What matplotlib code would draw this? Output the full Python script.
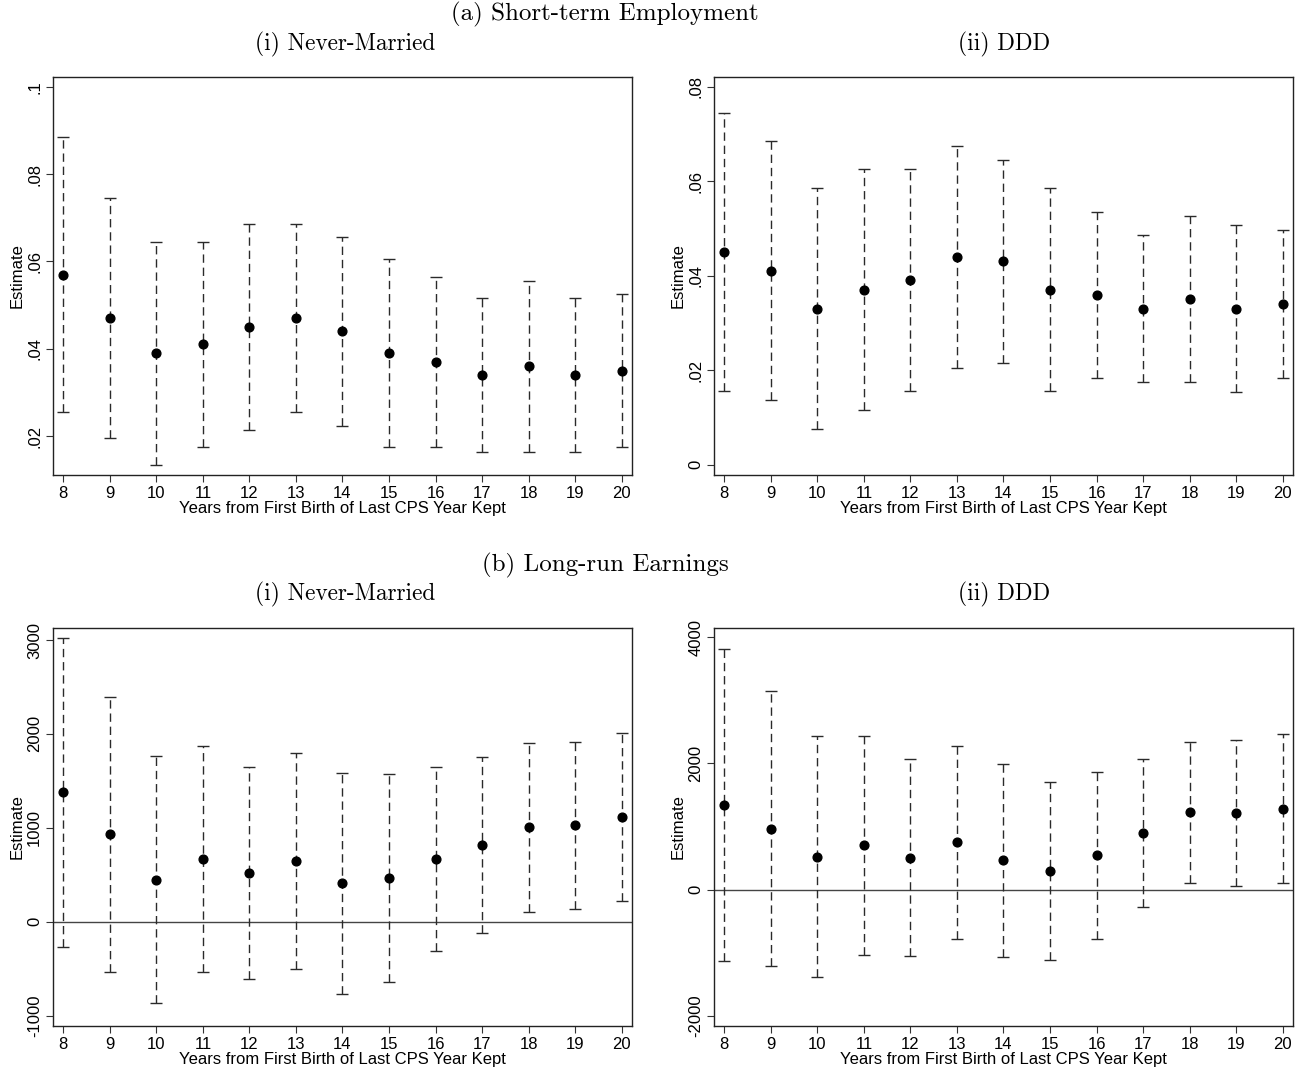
import numpy as np
import matplotlib
matplotlib.use("Agg")
from matplotlib import pyplot as plt

plt.rcParams['font.family'] = ['Liberation Sans', 'DejaVu Sans']

years = np.arange(8, 21)

# short-term employment, never-married sample
emp_nm = [0.057, 0.047, 0.039, 0.041, 0.045, 0.047, 0.044, 0.039, 0.037, 0.034, 0.036, 0.034, 0.035]
emp_nm_hi = [0.0884, 0.0745, 0.0645, 0.0645, 0.0685, 0.0685, 0.0655, 0.0606, 0.0565, 0.0516, 0.0556, 0.0516, 0.0526]
emp_nm_lo = [0.0256, 0.0195, 0.0135, 0.0175, 0.0214, 0.0255, 0.0224, 0.0175, 0.0175, 0.0164, 0.0164, 0.0164, 0.0174]

# short-term employment, DDD
emp_ddd = [0.045, 0.041, 0.033, 0.037, 0.039, 0.044, 0.043, 0.037, 0.036, 0.033, 0.035, 0.033, 0.034]
emp_ddd_hi = [0.0744, 0.0684, 0.0585, 0.0625, 0.0625, 0.0675, 0.0645, 0.0586, 0.0535, 0.0487, 0.0526, 0.0507, 0.0497]
emp_ddd_lo = [0.0156, 0.0136, 0.0076, 0.0116, 0.0155, 0.0205, 0.0215, 0.0155, 0.0184, 0.0174, 0.0174, 0.0154, 0.0184]

# long-run earnings, never-married sample
earn_nm = [1377, 930, 444, 667, 515, 642, 408, 461, 670, 816, 1008, 1029, 1114]
earn_nm_hi = [3022, 2398, 1760, 1869, 1643, 1792, 1582, 1568, 1653, 1756, 1905, 1919, 2011]
earn_nm_lo = [-266, -532, -862, -532, -613, -507, -766, -642, -312, -124, 106, 135, 217]

# long-run earnings, DDD
earn_ddd = [1342, 961, 523, 703, 508, 755, 470, 301, 544, 898, 1226, 1215, 1285]
earn_ddd_hi = [3822, 3145, 2436, 2436, 2071, 2284, 1998, 1707, 1865, 2071, 2347, 2373, 2463]
earn_ddd_lo = [-1132, -1211, -1386, -1037, -1058, -777, -1063, -1110, -783, -276, 111, 52, 111]

emp_nm_ticks = [0.02, 0.04, 0.06, 0.08, 0.1]
emp_nm_labels = ['.02', '.04', '.06', '.08', '.1']
emp_ddd_ticks = [0, 0.02, 0.04, 0.06, 0.08]
emp_ddd_labels = ['0', '.02', '.04', '.06', '.08']
earn_nm_ticks = [-1000, 0, 1000, 2000, 3000]
earn_nm_labels = ['-1000', '0', '1000', '2000', '3000']
earn_ddd_ticks = [-2000, 0, 2000, 4000]
earn_ddd_labels = ['-2000', '0', '2000', '4000']

fig = plt.figure(figsize=(13.06, 10.73), dpi=100)

W, H = 1306, 1073
def make_ax(x0, y0, x1, y1):
    return fig.add_axes([x0 / W, 1 - y1 / H, (x1 - x0) / W, (y1 - y0) / H])

ax_tl = make_ax(53.3, 76.7, 632.3, 475)
ax_tr = make_ax(714.3, 76.7, 1293.3, 475)
ax_bl = make_ax(53.3, 627.7, 632.3, 1026)
ax_br = make_ax(714.3, 627.7, 1293.3, 1026)


def coef_plot(ax, est, lo, hi, ticks, labels, ylim, zero_line=False):
    est = np.array(est)
    err = [est - np.array(lo), np.array(hi) - est]
    if zero_line:
        ax.axhline(0, color='#444444', lw=1.0, zorder=1)
    eb = ax.errorbar(years, est, yerr=err, fmt='o', color='black', ms=6.3,
                     ecolor='#2a2a2a', elinewidth=1.0, capsize=4, capthick=1.0, zorder=3)
    eb[2][0].set_linestyle((0, (6, 3.5)))
    ax.set_xlim(7.785, 20.23)
    ax.set_ylim(*ylim)
    ax.set_xticks(years)
    ax.set_yticks(ticks)
    ax.set_yticklabels(labels, rotation=90, va='center')
    ax.tick_params(labelsize=12, length=5, width=0.8, color='#333333', pad=3)
    ax.set_xlabel('Years from First Birth of Last CPS Year Kept', fontsize=12, labelpad=0)
    ax.set_ylabel('Estimate', fontsize=12, labelpad=2)
    for s in ax.spines.values():
        s.set_linewidth(1.0)
        s.set_color('#222222')


coef_plot(ax_tl, emp_nm, emp_nm_lo, emp_nm_hi, emp_nm_ticks, emp_nm_labels, (0.0111, 0.1023))
coef_plot(ax_tr, emp_ddd, emp_ddd_lo, emp_ddd_hi, emp_ddd_ticks, emp_ddd_labels, (-0.0022, 0.0821))
coef_plot(ax_bl, earn_nm, earn_nm_lo, earn_nm_hi, earn_nm_ticks, earn_nm_labels, (-1110, 3131), zero_line=True)
coef_plot(ax_br, earn_ddd, earn_ddd_lo, earn_ddd_hi, earn_ddd_ticks, earn_ddd_labels, (-2163, 4152), zero_line=True)

head = dict(family=['cmr10', 'DejaVu Serif'], ha='center', va='center', fontsize=18)
sub = dict(family=['cmr10', 'DejaVu Serif'], ha='center', va='center', fontsize=16.8)
fig.text(605 / W, 1 - 14 / H, '(a) Short-term Employment', **head)
fig.text(345 / W, 1 - 44 / H, '(i) Never-Married', **sub)
fig.text(1004 / W, 1 - 44 / H, '(ii) DDD', **sub)
fig.text(605 / W, 1 - 565 / H, '(b) Long-run Earnings', **head)
fig.text(345 / W, 1 - 594 / H, '(i) Never-Married', **sub)
fig.text(1004 / W, 1 - 594 / H, '(ii) DDD', **sub)

fig.savefig('out.png', dpi=100)
